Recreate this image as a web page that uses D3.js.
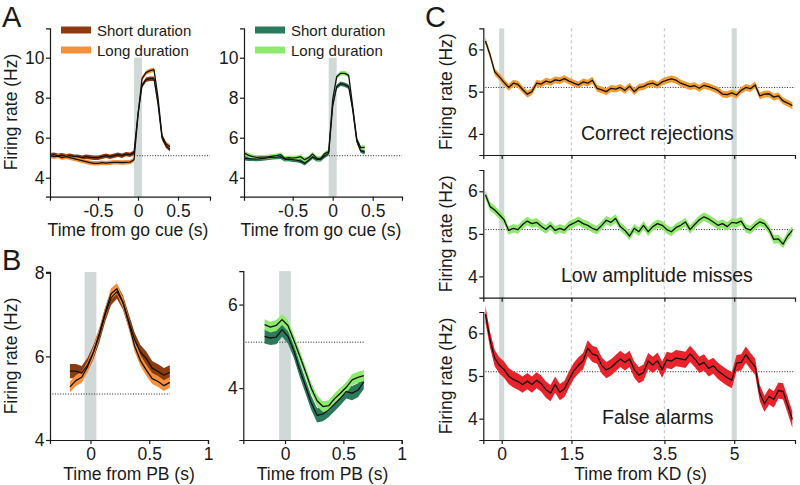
<!DOCTYPE html>
<html><head><meta charset="utf-8">
<script src="https://cdn.jsdelivr.net/npm/d3@7"></script>
<style>
body{margin:0;background:#fff;}
text{font-family:"Liberation Sans",Arial,Helvetica,sans-serif;fill:#1a1a1a;}
</style></head><body>
<svg id="c" width="800" height="485"></svg>
<script>
// ---------- Panel A (time from go cue, s) ----------
const tA = [-1.1,-1.05,-1,-0.95,-0.9,-0.85,-0.8,-0.75,-0.7,-0.65,-0.6,-0.55,-0.5,-0.45,-0.4,-0.35,-0.3,-0.25,-0.2,-0.15,-0.1,-0.05,0,0.05,0.1,0.15,0.2,0.25,0.3,0.35,0.4];
const aOrangeShort = [5.12,5.15,5.1,5.12,5.08,5.1,5.05,5.05,5.0,5.05,5.02,5.0,5.0,5.05,5.1,5.05,5.1,5.15,5.1,5.18,5.15,5.25,7.2,8.6,8.9,8.95,8.95,7.7,6.0,5.6,5.42];
const aOrangeLong  = [5.1,5.05,5.08,5.0,5.05,5.0,4.95,4.9,4.85,4.8,4.75,4.72,4.72,4.75,4.73,4.75,4.77,4.77,4.76,4.77,4.78,4.9,7.1,8.95,9.25,9.35,9.4,8.0,6.1,5.7,5.55];
const aGreenShort  = [4.97,4.95,4.94,4.93,4.95,4.97,5.0,5.02,5.03,5.05,4.92,4.93,4.9,4.88,4.83,4.72,4.88,5.05,4.92,4.92,5.1,5.22,7.6,8.55,8.7,8.65,8.55,7.4,5.85,5.35,5.28];
const aGreenLong   = [5.22,5.12,5.05,5.02,5.03,5.03,5.05,5.08,5.1,5.15,4.97,5.0,4.98,5.0,5.05,4.9,5.0,5.18,4.97,4.98,5.2,5.3,7.9,9.05,9.22,9.22,9.12,7.55,5.95,5.5,5.52];
const semA = 0.11;
const ticksAx = [-0.5, 0, 0.5];
const ticksAy = [4, 6, 8, 10];

// ---------- Panel B (time from PB, s) ----------
const tB = [-0.175,-0.125,-0.075,-0.025,0.025,0.075,0.125,0.175,0.225,0.275,0.325,0.375,0.425,0.475,0.525,0.575,0.625,0.675];
const bOrangeShort = [5.65,5.65,5.6,5.8,6.1,6.5,7.0,7.4,7.55,7.3,6.85,6.4,6.1,5.95,5.72,5.64,5.55,5.62];
const bOrangeLong  = [5.27,5.42,5.5,5.75,6.1,6.55,7.05,7.5,7.62,7.3,6.8,6.25,5.9,5.67,5.47,5.4,5.3,5.38];
const bGreenShort  = [5.24,5.2,5.22,5.4,5.24,4.9,4.45,4.05,3.65,3.35,3.38,3.48,3.62,3.76,3.92,3.88,3.95,4.15];
const bGreenLong   = [5.52,5.46,5.5,5.64,5.5,5.15,4.78,4.4,4.0,3.7,3.56,3.58,3.75,3.88,4.02,4.2,4.26,4.3];
const semBShort = 0.17, semBLong = 0.13;
const ticksBx = [0, 0.5, 1];
const ticksBy1 = [4, 6, 8];
const ticksBy2 = [4, 6];

// ---------- Panel C (time from KD, s) ----------
const tC = [-0.35,-0.25,-0.15,-0.05,0.05,0.15,0.25,0.35,0.45,0.55,0.65,0.75,0.85,0.95,1.05,1.15,1.25,1.35,1.45,1.55,1.65,1.75,1.85,1.95,2.05,2.15,2.25,2.35,2.45,2.55,2.65,2.75,2.85,2.95,3.05,3.15,3.25,3.35,3.45,3.55,3.65,3.75,3.85,3.95,4.05,4.15,4.25,4.35,4.45,4.55,4.65,4.75,4.85,4.95,5.05,5.15,5.25,5.35,5.45,5.55,5.65,5.75,5.85,5.95,6.05,6.15,6.25];
const cCorrectRejections = [6.2,5.87,5.47,5.35,5.22,5.1,5.2,5.17,5.05,4.94,5.0,5.2,5.18,5.25,5.22,5.28,5.26,5.31,5.25,5.2,5.16,5.23,5.2,5.27,5.08,5.04,5.0,5.08,5.06,5.1,5.03,5.13,5.0,5.1,5.12,5.18,5.2,5.15,5.23,5.27,5.3,5.27,5.2,5.16,5.12,5.14,5.08,5.15,5.12,5.08,5.03,4.94,4.93,4.97,4.92,5.03,5.1,5.07,5.16,4.9,4.94,4.95,4.87,4.9,4.78,4.73,4.67];
const cLowAmpMisses = [5.92,5.64,5.56,5.45,5.33,5.08,5.13,5.1,5.22,5.3,5.24,5.27,5.18,5.1,5.2,5.08,5.13,5.09,5.2,5.25,5.31,5.24,5.2,5.13,5.09,5.2,5.32,5.27,5.36,5.17,5.08,4.95,5.13,5.05,5.2,5.05,5.17,5.24,5.2,5.1,5.05,5.15,5.2,5.28,5.1,5.22,5.33,5.4,5.35,5.28,5.2,5.24,5.17,5.27,5.25,5.3,5.13,5.09,5.2,5.28,5.24,5.1,4.87,4.88,4.76,4.95,5.08];
const cFalseAlarms = [6.45,5.85,5.42,5.25,5.15,5.0,4.92,4.87,4.8,4.88,4.8,4.9,4.82,4.68,4.6,4.8,4.62,4.7,4.92,5.12,5.25,5.35,5.65,5.52,5.48,5.25,5.14,5.2,5.3,5.4,5.32,5.4,5.15,5.02,5.08,5.35,5.26,5.36,5.15,5.38,5.35,5.42,5.4,5.38,5.52,5.4,5.26,5.32,5.18,5.24,5.12,5.04,4.96,4.9,5.3,5.32,5.5,5.35,5.22,4.6,4.35,4.52,4.45,4.66,4.64,4.32,3.98];
const semCR = 0.08, semLAM = 0.1, semFA = 0.19;
const ticksCx = [0, 1.5, 3.5, 5];
const ticksCy = [4, 5, 6];
const labelsC = ["Correct rejections", "Low amplitude misses", "False alarms"];
const legendLabels = ["Short duration", "Long duration"];
const baselineRate = 5.1;

// ---------- colours ----------
const col = {
  brown: "#8c3a10", orange: "#f6903a",
  dgreen: "#2b7a5c", lgreen: "#8eea6c",
  cOrange: "#f29a2e", cGreen: "#8ee86c", cRed: "#e8232c",
  band: "#d0d8d8", ink: "#1a1a1a"
};

const svg = d3.select("#c");
const FS = 17.5;

function trace(g, x, y, t, v, sem, color) {
  const d = t.map((tt, i) => ({t: tt, v: v[i]}));
  g.append("path").datum(d).attr("fill", color)
    .attr("d", d3.area().x(p => x(p.t)).y0(p => y(p.v - sem)).y1(p => y(p.v + sem)));
}
function mean(g, x, y, t, v) {
  const d = t.map((tt, i) => ({t: tt, v: v[i]}));
  g.append("path").datum(d).attr("fill", "none").attr("stroke", "#111").attr("stroke-width", 1.3)
    .attr("stroke-linejoin", "round")
    .attr("d", d3.line().x(p => x(p.t)).y(p => y(p.v)));
}
function band(g, x, t0, t1, yTop, yBot) {
  g.append("rect").attr("x", x(t0)).attr("width", x(t1) - x(t0))
    .attr("y", yTop).attr("height", yBot - yTop).attr("fill", col.band);
}
function dotted(g, x, y, t0, t1, v) {
  g.append("line").attr("x1", x(t0)).attr("x2", x(t1)).attr("y1", y(v)).attr("y2", y(v))
    .attr("stroke", "#222").attr("stroke-width", 1).attr("stroke-dasharray", "1,1.6");
}
function styleAxis(a) {
  a.attr("font-size", null).attr("font-family", null);
  a.select(".domain").attr("stroke", col.ink).attr("stroke-width", 1.2);
  a.selectAll(".tick line").attr("stroke", col.ink).attr("stroke-width", 1.2);
  a.selectAll(".tick text").attr("font-size", FS).attr("fill", col.ink);
}
function xAxis(g, x, yPos, ticks, labels) {
  const ax = d3.axisBottom(x).tickValues(ticks).tickSizeOuter(0).tickSize(4).tickPadding(4)
    .tickFormat(labels ? (d => String(d)) : (() => ""));
  const a = g.append("g").attr("transform", `translate(0,${yPos})`).call(ax);
  styleAxis(a);
}
function yAxis(g, y, xPos, ticks) {
  const ax = d3.axisLeft(y).tickValues(ticks).tickSizeOuter(0).tickSize(4).tickPadding(1.5)
    .tickFormat(d => String(d));
  const a = g.append("g").attr("transform", `translate(${xPos},0)`).call(ax);
  styleAxis(a);
}
function ylabel(g, xBase, yc) {
  g.append("text").attr("transform", `translate(${xBase},${yc}) rotate(-90)`)
    .attr("text-anchor", "middle").attr("font-size", FS).text("Firing rate (Hz)");
}
function xlabel(g, xc, yb, s) {
  g.append("text").attr("x", xc).attr("y", yb).attr("text-anchor", "middle").attr("font-size", FS).text(s);
}

// ================= Panel A =================
function panelA(x0, x1, zeroPx, sShort, sLong, cShort, cLong, showYLabel, legX) {
  const g = svg.append("g");
  const pxPerS = 80;
  const x = d3.scaleLinear().domain([(x0 - zeroPx) / pxPerS, (x1 - zeroPx) / pxPerS]).range([x0, x1]);
  const y = d3.scaleLinear().domain([3.05, 11.47]).range([196.7, 28.3]);
  band(g, x, -0.05, 0.05, y(10), y(3.05));
  dotted(g, x, y, -0.08, x.domain()[1], baselineRate);
  trace(g, x, y, tA, sShort, semA, cShort);
  trace(g, x, y, tA, sLong, semA, cLong);
  mean(g, x, y, tA, sShort);
  mean(g, x, y, tA, sLong);
  xAxis(g, x, 196.7, ticksAx, true);
  yAxis(g, y, x0, ticksAy);
  if (showYLabel) ylabel(g, 17, 112);
  xlabel(g, (x0 + x1) / 2 - 2, 236, "Time from go cue (s)");
  // legend
  [cShort, cLong].forEach((c, i) => {
    const yy = 30 + i * 20;
    g.append("line").attr("x1", legX).attr("x2", legX + 30).attr("y1", yy).attr("y2", yy)
      .attr("stroke", c).attr("stroke-width", 7);
    g.append("text").attr("x", legX + 36).attr("y", yy + 5.5).attr("font-size", 15).text(legendLabels[i]);
  });
}
panelA(50, 210, 138, aOrangeShort, aOrangeLong, col.brown, col.orange, true, 61);
panelA(244, 402, 332.7, aGreenShort, aGreenLong, col.dgreen, col.lgreen, false, 255);

// ================= Panel B =================
function panelB(x0, x1, zeroPx, yDom, yTicks, sShort, sLong, cShort, cLong, showYLabel) {
  const g = svg.append("g");
  const pxPerS = (x1 - zeroPx) / 1.0;
  const x = d3.scaleLinear().domain([(x0 - zeroPx) / pxPerS, 1]).range([x0, x1]);
  const y = d3.scaleLinear().domain(yDom).range([440, 440 - (yDom[1] - yDom[0]) * 41.8]);
  band(g, x, -0.05, 0.05, y(yDom[1]), y(yDom[0]));
  dotted(g, x, y, x.domain()[0] + 0.02, 0.675, baselineRate);
  trace(g, x, y, tB, sShort, semBShort, cShort);
  trace(g, x, y, tB, sLong, semBLong, cLong);
  mean(g, x, y, tB, sShort);
  mean(g, x, y, tB, sLong);
  xAxis(g, x, 440, ticksBx, true);
  yAxis(g, y, x0, yTicks);
  if (showYLabel) ylabel(g, 17, 356);
  xlabel(g, (x0 + x1) / 2, 479.5, "Time from PB (s)");
}
panelB(50, 208, 90.5, [4, 8.02], ticksBy1, bOrangeShort, bOrangeLong, col.brown, col.orange, true);
panelB(243.3, 401.7, 285, [2.76, 6.8], ticksBy2, bGreenShort, bGreenLong, col.dgreen, col.lgreen, false);

// ================= Panel C =================
const gC = svg.append("g");
const xC = d3.scaleLinear().domain([(483.3 - 501.7) / 46.5, (795 - 501.7) / 46.5]).range([483.3, 795]);
const subs = [
  {top: 28.3, bot: 155, v: cCorrectRejections, sem: semCR, c: col.cOrange, lx: 581, ly: 140},
  {top: 170, bot: 297.7, v: cLowAmpMisses, sem: semLAM, c: col.cGreen, lx: 561, ly: 282},
  {top: 312, bot: 440, v: cFalseAlarms, sem: semFA, c: col.cRed, lx: 602, ly: 424}
];
band(gC, xC, -0.055, 0.055, 28.3, 440);
band(gC, xC, 4.945, 5.055, 28.3, 440);
[1.5, 3.5].forEach(t => {
  gC.append("line").attr("x1", xC(t)).attr("x2", xC(t)).attr("y1", 28.3).attr("y2", 440)
    .attr("stroke", "#c9cece").attr("stroke-width", 1.3).attr("stroke-dasharray", "3,3");
});
subs.forEach((s, i) => {
  const y = d3.scaleLinear().domain([3.5, 6.5]).range([s.bot, s.top]);
  dotted(gC, xC, y, -0.35, xC.domain()[1], baselineRate);
  trace(gC, xC, y, tC, s.v, s.sem, s.c);
  mean(gC, xC, y, tC, s.v);
  xAxis(gC, xC, s.bot, ticksCx, i === 2);
  yAxis(gC, y, 483.3, ticksCy);
  ylabel(gC, 452, (s.top + s.bot) / 2);
  gC.append("text").attr("x", s.lx).attr("y", s.ly).attr("font-size", 19.5).text(labelsC[i]);
});
xlabel(gC, 640.5, 479.5, "Time from KD (s)");

// panel letters
[["A", 2, 27], ["B", 2, 270], ["C", 425, 27]].forEach(([s, x, y]) => {
  svg.append("text").attr("x", x).attr("y", y).attr("font-size", 29).text(s);
});
</script>
</body></html>
